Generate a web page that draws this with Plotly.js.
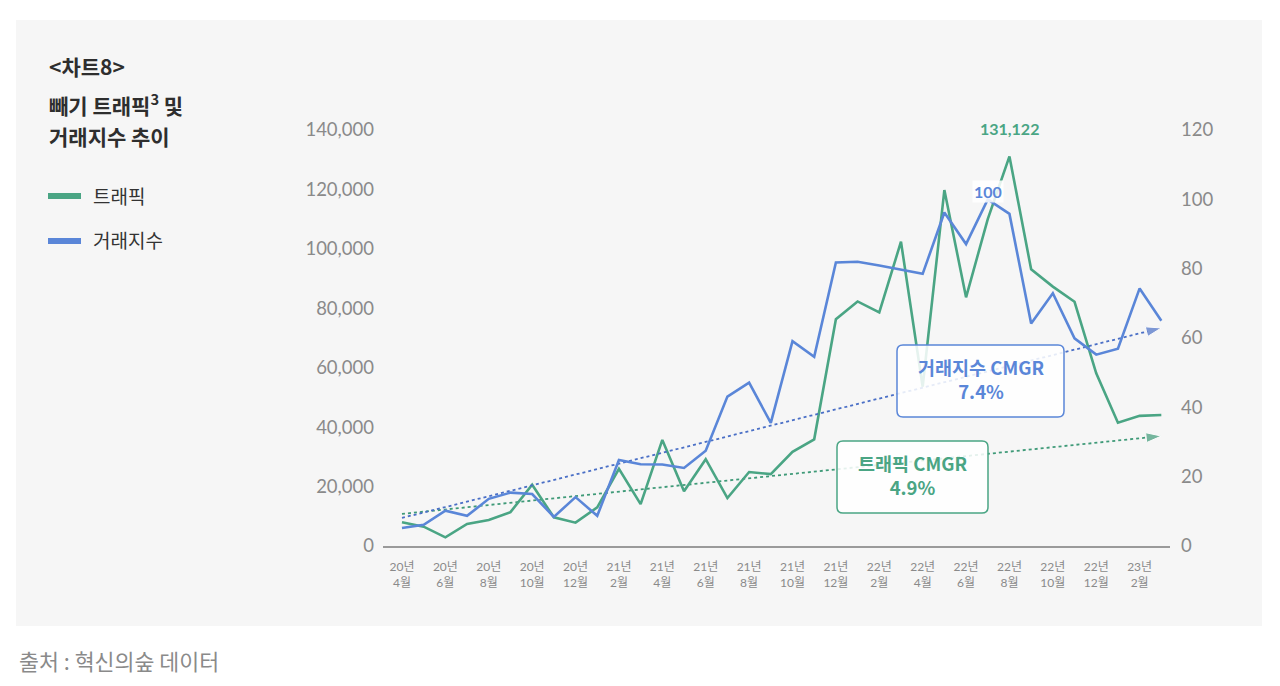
<!DOCTYPE html>
<html>
<head>
<meta charset="utf-8">
<script src="https://cdn.plot.ly/plotly-3.0.1.min.js"></script>
<style>
  html, body { margin: 0; padding: 0; background: #fff; }
  #chart { width: 1280px; height: 686px; }
</style>
</head>
<body>
<div id="chart"></div>
<script>
const months = [
    '20년<br>4월', '20년<br>5월', '20년<br>6월', '20년<br>7월', '20년<br>8월', '20년<br>9월',
    '20년<br>10월', '20년<br>11월', '20년<br>12월',
    '21년<br>1월', '21년<br>2월', '21년<br>3월', '21년<br>4월', '21년<br>5월', '21년<br>6월',
    '21년<br>7월', '21년<br>8월', '21년<br>9월', '21년<br>10월', '21년<br>11월', '21년<br>12월',
    '22년<br>1월', '22년<br>2월', '22년<br>3월', '22년<br>4월', '22년<br>5월', '22년<br>6월',
    '22년<br>7월', '22년<br>8월', '22년<br>9월', '22년<br>10월', '22년<br>11월', '22년<br>12월',
    '23년<br>1월', '23년<br>2월', '23년<br>3월'
]
// 트래픽 (left axis)
const traffic = [
    8000, 6500, 2900, 7400, 8750, 11400, 20600, 9650, 7850,
    13000, 26000, 14100, 35700, 18400, 29200, 16150, 24900, 24200, 31700, 35900, 76300,
    82300, 78600, 102400, 53600, 119800, 83700, 110000, 131122, 93100, 87300, 82200, 58100,
    41500, 43800, 44100
]
// 거래지수 (right axis)
const tradeIndex = [
    5.2, 6.1, 10.2, 8.7, 13.6, 15.4, 15.0, 8.4, 14.1,
    8.7, 24.8, 23.6, 23.5, 22.5, 27.5, 43.1, 47.1, 35.5, 59.1, 54.6, 81.8,
    82.0, 80.9, 79.8, 78.5, 96.2, 87.1, 100, 95.8, 64.2, 72.9, 59.9, 55.2,
    56.9, 74.3, 65.0
]
// CMGR trend lines, start and end
const trafficTrend = [10800, 37000]
const indexTrend = [8.1, 62.9]

const green = '#4aa584'
const blue = '#5a86d8'
const greenDot = '#3f9a78'
const blueDot = '#4a6fc6'
const numFont = 'Lato, "Noto Sans CJK KR", sans-serif'
const krFont = '"Noto Sans CJK KR", "Noto Sans", sans-serif'

const tickMonths = months.filter((m, i) => i % 2 === 0)
const ends = [months[0], months[months.length - 1]]

const data = [
    {
        x: ends, y: trafficTrend, yaxis: 'y', mode: 'lines+markers',
        line: {color: greenDot, width: 1.8, dash: 'dot'},
        marker: {symbol: 'arrow', angleref: 'previous', size: [0, 16], color: greenDot},
        showlegend: false, hoverinfo: 'skip'
    },
    {
        x: ends, y: indexTrend, yaxis: 'y2', mode: 'lines+markers',
        line: {color: blueDot, width: 1.8, dash: 'dot'},
        marker: {symbol: 'arrow', angleref: 'previous', size: [0, 16], color: blueDot},
        showlegend: false, hoverinfo: 'skip'
    },
    {
        x: months, y: traffic, yaxis: 'y', mode: 'lines', name: '트래픽',
        line: {color: green, width: 2.6}
    },
    {
        x: months, y: tradeIndex, yaxis: 'y2', mode: 'lines', name: '거래지수',
        line: {color: blue, width: 2.6}
    }
]

const px = v => (v - 383) / 787
const py = v => (546 - v) / 416

// rounded box in page pixels -> paper path
const roundBox = (x0, y0, x1, y1, r) => {
    const X = v => px(v).toFixed(5), Y = v => py(v).toFixed(5)
    return 'M' + X(x0 + r) + ',' + Y(y0) +
        ' L' + X(x1 - r) + ',' + Y(y0) + ' Q' + X(x1) + ',' + Y(y0) + ' ' + X(x1) + ',' + Y(y0 + r) +
        ' L' + X(x1) + ',' + Y(y1 - r) + ' Q' + X(x1) + ',' + Y(y1) + ' ' + X(x1 - r) + ',' + Y(y1) +
        ' L' + X(x0 + r) + ',' + Y(y1) + ' Q' + X(x0) + ',' + Y(y1) + ' ' + X(x0) + ',' + Y(y1 - r) +
        ' L' + X(x0) + ',' + Y(y0 + r) + ' Q' + X(x0) + ',' + Y(y0) + ' ' + X(x0 + r) + ',' + Y(y0) + ' Z'
}

const legendSwatch = (y, color) => ({
    type: 'line', xref: 'paper', yref: 'paper',
    x0: px(48), x1: px(81), y0: py(y), y1: py(y),
    line: {color: color, width: 6}
})
const label = (x, y, text, size, color, extra) => Object.assign({
    xref: 'paper', yref: 'paper', x: px(x), y: py(y), xanchor: 'left', yanchor: 'middle',
    text: text, showarrow: false, font: {size: size, color: color}
}, extra || {})

const layout = {
    width: 1280,
    height: 686,
    autosize: false,
    margin: {l: 383, r: 110, t: 130, b: 140},
    paper_bgcolor: '#ffffff',
    plot_bgcolor: 'rgba(0,0,0,0)',
    font: {family: krFont, color: '#333'},
    showlegend: false,
    xaxis: {
        type: 'category',
        categoryorder: 'array',
        categoryarray: months,
        range: [-0.875, 35.4],
        tickmode: 'array',
        tickvals: tickMonths,
        tickfont: {size: 12, color: '#8a8a8a', family: numFont},
        showgrid: false, zeroline: false,
        showline: true, linecolor: '#9a9a9a', linewidth: 1.5,
        ticks: '', ticklabelstandoff: 9
    },
    yaxis: {
        range: [0, 140000], dtick: 20000, tickformat: ',d',
        tickfont: {size: 18.5, color: '#8a8a8a', family: numFont},
        showgrid: false, zeroline: false, showline: false, ticks: '',
        ticklabelstandoff: 8
    },
    yaxis2: {
        overlaying: 'y', side: 'right',
        range: [0, 120], dtick: 20,
        tickfont: {size: 18.5, color: '#8a8a8a', family: numFont},
        showgrid: false, zeroline: false, showline: false, ticks: '',
        ticklabelstandoff: 10
    },
    shapes: [
        {
            type: 'rect', xref: 'paper', yref: 'paper', layer: 'below',
            x0: px(16), x1: px(1262), y0: py(626), y1: py(20),
            fillcolor: '#f6f6f6', line: {width: 0}
        },
        {
            type: 'path', xref: 'paper', yref: 'paper', layer: 'above',
            path: roundBox(897, 345, 1064, 417, 6),
            fillcolor: 'rgba(255,255,255,0.86)', line: {color: blue, width: 1.5}
        },
        {
            type: 'path', xref: 'paper', yref: 'paper', layer: 'above',
            path: roundBox(837, 441, 988, 513, 6),
            fillcolor: 'rgba(255,255,255,0.86)', line: {color: green, width: 1.5}
        },
        legendSwatch(196, green),
        legendSwatch(241, blue)
    ],
    annotations: [
        label(47, 66, '<b>&lt;차트8&gt;</b>', 21, '#2e2e2e'),
        label(47, 104, '<b>빼기 트래픽<sup>3</sup> 및</b>', 21, '#2e2e2e'),
        label(47, 136, '<b>거래지수 추이</b>', 21, '#2e2e2e'),
        label(91, 195, '트래픽', 19, '#333'),
        label(91, 240, '거래지수', 19, '#333'),
        label(17, 660, '출처 : 혁신의숲 데이터', 21.7, '#8a8a8a'),
        {
            xref: 'x', yref: 'paper', x: months[28], y: py(129), xanchor: 'center', yanchor: 'middle',
            text: '<b>131,122</b>', showarrow: false, font: {size: 16, color: green, family: numFont}
        },
        {
            xref: 'x', yref: 'paper', x: months[27], y: py(191), xanchor: 'center', yanchor: 'middle',
            text: '<b>100</b>', showarrow: false, font: {size: 16, color: blue, family: numFont},
            bgcolor: 'rgba(255,255,255,0.85)', borderpad: 1
        },
        label(980.5, 379, '<b>거래지수 CMGR<br>7.4%</b>', 18.5, blue, {xanchor: 'center', align: 'center'}),
        label(912.5, 475, '<b>트래픽 CMGR<br>4.9%</b>', 18.5, green, {xanchor: 'center', align: 'center'})
    ]
}

const config = {
    responsive: false,
    displayModeBar: false
}

Plotly.newPlot(document.getElementById('chart'), data, layout, config);
</script>
</body>
</html>
